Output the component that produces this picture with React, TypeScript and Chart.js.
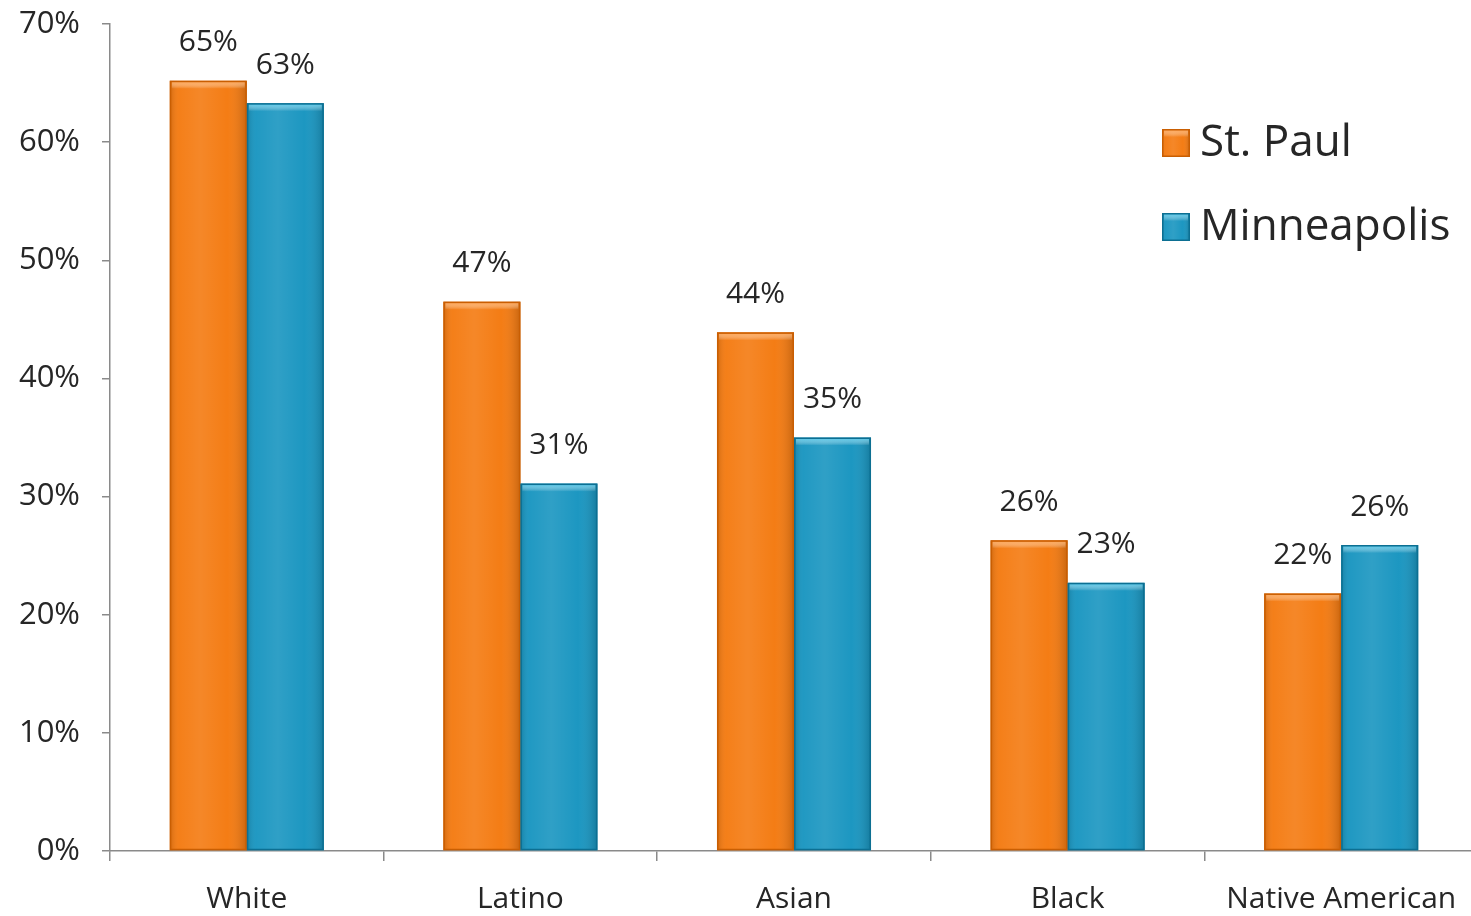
import React, { useEffect, useRef } from "react";
import { Chart, registerables } from "chart.js";

Chart.register(...registerables);

const categories = ["White", "Latino", "Asian", "Black", "Native American"];
const stPaul = [65.2, 46.5, 43.9, 26.3, 21.8];
const minneapolis = [63.3, 31.1, 35.0, 22.7, 25.9];
const stPaulLabels = ["65%", "47%", "44%", "26%", "22%"];
const minneapolisLabels = ["63%", "31%", "35%", "23%", "26%"];
const seriesNames = ["St. Paul", "Minneapolis"];
const seriesColors = ["#F47A10", "#1895C0"];
const seriesEdge = ["#C95E02", "#0C6F92"];
const seriesTop = ["#FFA04A", "#4CC8EC"];

const FONT = "'Open Sans', 'Noto Sans', sans-serif";
const TEXT = "#262626";
const AXIS = "#8a8a8a";

function shadeBar(c: CanvasRenderingContext2D, x: number, y: number, w: number, h: number, di: number) {
  const g = c.createLinearGradient(x, 0, x + w, 0);
  g.addColorStop(0, "rgba(0,0,0,0.14)");
  g.addColorStop(0.12, "rgba(255,255,255,0.04)");
  g.addColorStop(0.4, "rgba(255,255,255,0.10)");
  g.addColorStop(0.75, "rgba(255,255,255,0.02)");
  g.addColorStop(1, "rgba(0,0,0,0.18)");
  c.fillStyle = g;
  c.fillRect(x, y, w, h);
  const t = c.createLinearGradient(0, y, 0, y + 8);
  t.addColorStop(0, seriesTop[di]);
  t.addColorStop(1, "rgba(255,255,255,0)");
  c.fillStyle = t;
  c.fillRect(x + 2, y + 1, w - 4, 8);
  c.strokeStyle = seriesEdge[di];
  c.lineWidth = 1.5;
  c.strokeRect(x + 0.75, y + 0.75, w - 1.5, h - 1.5);
}

const barDecor = {
  id: "barDecor",
  afterDatasetsDraw(chart: any) {
    const c = chart.ctx as CanvasRenderingContext2D;
    c.save();
    chart.data.datasets.forEach((ds: any, di: number) => {
      const meta = chart.getDatasetMeta(di);
      meta.data.forEach((el: any, i: number) => {
        const x = el.x - el.width / 2;
        const y = el.y;
        const h = el.base - el.y;
        shadeBar(c, x, y, el.width, h, di);
        c.fillStyle = TEXT;
        c.font = `30px ${FONT}`;
        c.textAlign = "center";
        c.textBaseline = "middle";
        c.fillText(ds.valueLabels[i], el.x, el.y - 38);
      });
    });
    c.restore();
  },
};

const customLegend = {
  id: "customLegend",
  afterDraw(chart: any) {
    const c = chart.ctx as CanvasRenderingContext2D;
    const area = chart.chartArea;
    const x0 = area.right - 316;
    const y0 = area.top + 119;
    c.save();
    seriesNames.forEach((name, i) => {
      const cy = y0 + i * 84;
      c.fillStyle = seriesColors[i];
      c.fillRect(x0, cy - 14, 28, 28);
      shadeBar(c, x0, cy - 14, 28, 28, i);
      c.fillStyle = TEXT;
      c.font = `44px ${FONT}`;
      c.textAlign = "left";
      c.textBaseline = "middle";
      c.fillText(name, x0 + 38, cy);
    });
    c.restore();
  },
};

export default function App() {
  const ref = useRef<HTMLCanvasElement>(null);
  useEffect(() => {
    document.body.style.overflow = "hidden";
    const chart = new Chart(ref.current!, {
      type: "bar",
      data: {
        labels: categories,
        datasets: [
          {
            label: seriesNames[0],
            data: stPaul,
            backgroundColor: seriesColors[0],
            valueLabels: stPaulLabels,
            categoryPercentage: 0.563,
            barPercentage: 1,
          } as any,
          {
            label: seriesNames[1],
            data: minneapolis,
            backgroundColor: seriesColors[1],
            valueLabels: minneapolisLabels,
            categoryPercentage: 0.563,
            barPercentage: 1,
          } as any,
        ],
      },
      options: {
        responsive: false,
        maintainAspectRatio: false,
        animation: false,
        layout: { padding: { top: 24, left: 0, right: 2, bottom: 0 } },
        plugins: { legend: { display: false }, tooltip: { enabled: false } },
        scales: {
          x: {
            grid: { display: true, drawOnChartArea: false, drawTicks: true, tickLength: 10, color: AXIS, offset: true, lineWidth: 1.5 },
            border: { color: AXIS, width: 1.5 },
            ticks: { font: { family: FONT, size: 30 }, color: TEXT, padding: 20, maxRotation: 0, autoSkip: false },
            afterFit: (s: any) => {
              s.height = 65;
              s.paddingLeft = 0;
              s.paddingRight = 0;
            },
          },
          y: {
            min: 0,
            max: 70,
            grid: { display: true, drawOnChartArea: false, drawTicks: true, tickLength: 8, color: AXIS, lineWidth: 1.5 },
            border: { color: AXIS, width: 1.5 },
            ticks: {
              stepSize: 10,
              font: { family: FONT, size: 31 },
              color: TEXT,
              padding: 22,
              callback: (v: any) => `${v}%`,
            },
            afterFit: (s: any) => {
              s.width = 110;
              s.paddingTop = 0;
              s.paddingBottom = 0;
            },
          },
        },
      },
      plugins: [barDecor, customLegend],
    } as any);
    return () => chart.destroy();
  }, []);
  return (
    <div style={{ position: "fixed", left: 0, top: 0, width: 1480, height: 916, background: "#fff" }}>
      <canvas ref={ref} width={1480} height={916} />
    </div>
  );
}
